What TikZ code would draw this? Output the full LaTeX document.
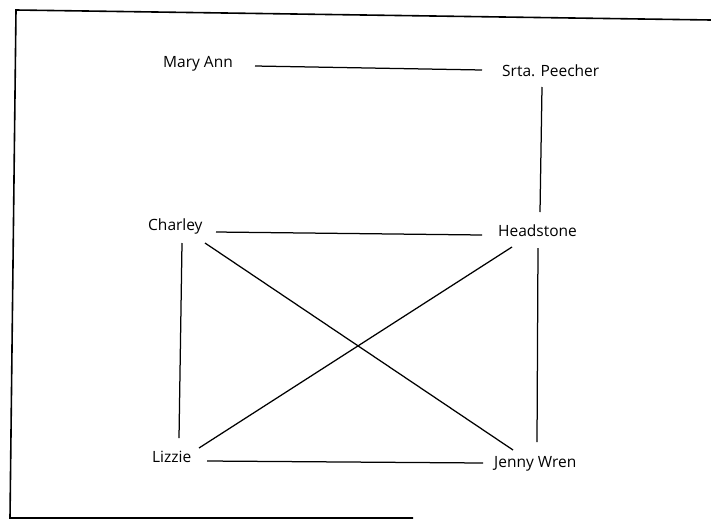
\documentclass[tikz,border=0pt]{standalone}
\usepackage{fontspec}
\setmainfont{Open Sans}
\begin{document}
\begin{tikzpicture}[x=1pt,y=-1pt,
  person/.style={anchor=base west,inner sep=0pt,font=\fontsize{15.5}{18}\selectfont,text=black},
  link/.style={line width=1.25pt,black},
  frame/.style={line width=1.6pt,black}]
\useasboundingbox (0,0) rectangle (711,525);
% frame
\coordinate (tr) at (711,20);
\coordinate (tl) at (16,10);
\coordinate (bl) at (10,518);
\coordinate (br) at (413,518);
\draw[frame] (tr) -- (tl) -- (bl) -- (br);
% people
\node[person] (mary) at (163,67) {Mary Ann};
\node[person] (srta) at (502,76) {Srta. Peecher};
\node[person] (charley) at (148,230) {Charley};
\node[person] (head) at (498,236) {Headstone};
\node[person] (lizzie) at (152,462) {Lizzie};
\node[person] (jenny) at (494,467) {Jenny Wren};
% links
\draw[link] ([shift={(92,-1)}]mary.base west) -- ([shift={(-20,-6)}]srta.base west);
\draw[link] ([shift={(40,11)}]srta.base west) -- ([shift={(42,-24)}]head.base west);
\draw[link] ([shift={(68,2)}]charley.base west) -- ([shift={(-16,-1)}]head.base west);
\draw[link] ([shift={(34,13)}]charley.base west) -- ([shift={(27,-24)}]lizzie.base west);
\draw[link] ([shift={(57,13)}]charley.base west) -- ([shift={(19,-17)}]jenny.base west);
\draw[link] ([shift={(14,11)}]head.base west) -- ([shift={(47,-14)}]lizzie.base west);
\draw[link] ([shift={(40,12)}]head.base west) -- ([shift={(43,-25)}]jenny.base west);
\draw[link] ([shift={(55,-1)}]lizzie.base west) -- ([shift={(-11,-4)}]jenny.base west);
\end{tikzpicture}
\end{document}
